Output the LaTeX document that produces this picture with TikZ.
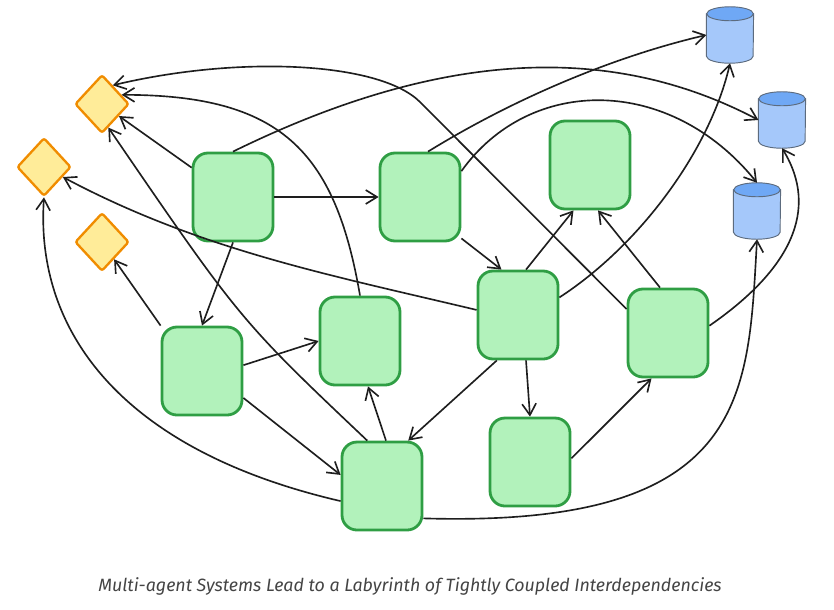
\documentclass[tikz,border=0pt]{standalone}
\usepackage{fontspec}
\setsansfont{Fira Sans}
\usepackage{xcolor}
\usepackage{tikz}
\usetikzlibrary{shapes,arrows,positioning,calc,shapes.geometric,arrows.meta}

\definecolor{agentfill}{HTML}{B2F2BB}
\definecolor{agentdraw}{HTML}{2F9E44}
\definecolor{toolfill}{HTML}{FFEC99}
\definecolor{tooldraw}{HTML}{F08C00}
\definecolor{storefill}{HTML}{A5C8FA}
\definecolor{storetop}{HTML}{6FA8F5}
\definecolor{storedraw}{HTML}{5C6B7E}
\definecolor{linkcol}{HTML}{1E1E1E}
\definecolor{captioncol}{HTML}{444444}

\begin{document}
\begin{tikzpicture}[
    x=0.03cm, y=-0.03cm,
    on grid,
    agent/.style={rectangle, draw=agentdraw, fill=agentfill, line width=2.4pt, minimum width=2.4cm, minimum height=2.64cm, rounded corners=0.45cm, inner sep=0pt},
    tool/.style={diamond, draw=tooldraw, fill=toolfill, line width=2pt, minimum width=1.62cm, minimum height=1.75cm, inner sep=0pt, rounded corners=2pt},
    store/.style={rectangle, minimum width=1.4cm, minimum height=1.68cm, inner sep=0pt},
    storeline/.style={draw=storedraw, line width=0.8pt},
    arrow/.style={-{Straight Barb[length=3.4mm, width=4.2mm]}, line width=1.4pt, linkcol},
    caption/.style={font=\sffamily\itshape\fontsize{15.2pt}{18pt}\selectfont, text=captioncol}
]
    \useasboundingbox (0,0) rectangle (834,609);

    \node[agent] (agA) at (233,197) {};
    \node[agent, right=5.61cm of agA] (agB) {};
    \node[agent, above right=0.96cm and 5.1cm of agB] (agC) {};
    \node[agent, below right=3.54cm and 2.94cm of agB] (agD) {};
    \node[agent, below right=0.54cm and 4.5cm of agD] (agE) {};
    \node[agent, below right=4.41cm and 0.36cm of agD] (agF) {};
    \node[agent, below left=5.22cm and 0.93cm of agA] (agG) {};
    \node[agent, above right=0.9cm and 4.74cm of agG] (agH) {};
    \node[agent, below right=4.35cm and 0.66cm of agH] (agI) {};

    \node[tool, above left=2.79cm and 3.93cm of agA] (toolA) {};
    \node[tool, below left=1.89cm and 1.74cm of toolA] (toolB) {};
    \node[tool, below=4.14cm of toolA] (toolC) {};

    \node[store, above right=3.9cm and 4.2cm of agC] (dbA) {};
    \node[store, below right=2.55cm and 1.56cm of dbA] (dbB) {};
    \node[store, below left=2.73cm and 0.75cm of dbB] (dbC) {};

    % cylinders
    \foreach \db in {dbA,dbB,dbC}{
        \draw[storeline, fill=storefill] ([yshift=-0.21cm]\db.north west) -- ([yshift=0.21cm]\db.south west)
            arc[start angle=180, end angle=360, x radius=0.7cm, y radius=0.21cm] -- ([yshift=-0.21cm]\db.north east) -- cycle;
        \draw[storeline, fill=storetop] ([yshift=-0.21cm]\db.north) ellipse[x radius=0.7cm, y radius=0.21cm];
    }

    \node[caption] (cap) at (410,586) {Multi-agent Systems Lead to a Labyrinth of Tightly Coupled Interdependencies};

    \draw[arrow] (agA) -- (toolA);
    \draw[arrow] (agA) -- (agB);
    \draw[arrow] (agA.south) -- (agG.north);
    \draw[arrow] (agA.north) .. controls (440,50) and (610,42) .. (dbB.west);
    \draw[arrow] (agE.150) -- (420,102) .. controls (380,62) and (240,55) .. (toolA.60);
    \draw[arrow] (agB.80) .. controls (520,95) and (620,55) .. (dbA.west);
    \draw[arrow] (agB.32) .. controls (530,75) and (670,75) .. (dbC.north);
    \draw[arrow] (agB.-45) -- (agD.110);
    \draw[arrow] (agD.80) -- (agC.-110);
    \draw[arrow] (agE.100) -- (agC.-80);
    \draw[arrow] (agD.23) .. controls (640,245) and (710,150) .. (dbA.south);
    \draw[arrow] (agE.10) .. controls (790,270) and (820,210) .. (dbB.south);
    \draw[arrow] (agI.-38) .. controls (750,528) and (748,395) .. (dbC.south);
    \draw[arrow] (agI.108) .. controls (240,320) .. (toolA.-75);
    \draw[arrow] (agH.north) .. controls (335,150) and (280,95) .. (toolA.25);
    \draw[arrow] (agD.173) .. controls (330,275) and (200,250) .. (toolB);
    \draw[arrow] (agI.-160) .. controls (120,450) and (35,330) .. (toolB.south);
    \draw[arrow] (agG.north west) -- (toolC);
    \draw[arrow] (agG.8) -- (agH.west);
    \draw[arrow] (agG.-33) -- (agI.165);
    \draw[arrow] (agI.85) -- (agH.-80);
    \draw[arrow] (agD.-115) -- (agI.60);
    \draw[arrow] (agD.-80) -- (agF.north);
    \draw[arrow] (agF.5) -- (agE.-110);
\end{tikzpicture}
\end{document}
